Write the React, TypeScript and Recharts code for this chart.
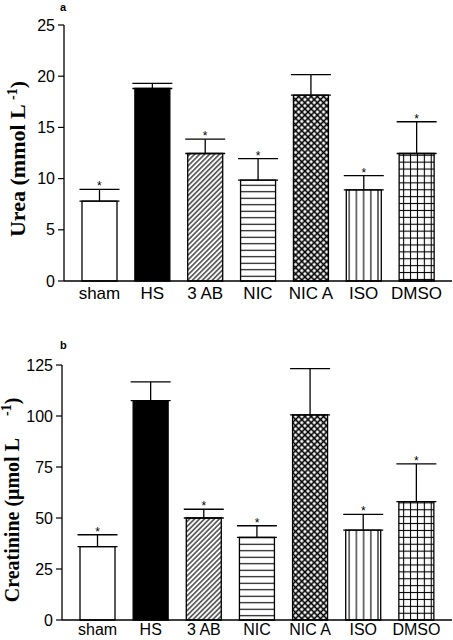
import React from 'react'
import {
  ComposedChart, Bar, Cell, ErrorBar, Scatter, XAxis, YAxis
} from 'recharts'

// groups
const categories = ['sham', 'HS', '3 AB', 'NIC', 'NIC A', 'ISO', 'DMSO']

// panel a: urea (mmol/L), mean and SEM
const ureaMean = [7.8, 18.8, 12.45, 9.85, 18.15, 8.9, 12.45]
const ureaSem = [1.15, 0.5, 1.4, 2.1, 2.0, 1.4, 3.1]

// panel b: creatinine (umol/L), mean and SEM
const creatMean = [36, 107.5, 50, 40.5, 100.6, 44.1, 58]
const creatSem = [5.8, 9.2, 4.3, 5.7, 22.6, 7.7, 18.5]

// * = significant vs HS
const significant = [true, false, true, true, false, true, true]

const ureaTicks = [0, 5, 10, 15, 20, 25]
const creatTicks = [0, 25, 50, 75, 100, 125]

const fillKeys = ['white', 'black', 'diag', 'horiz', 'cross', 'vert', 'grid']

const SANS = '"Liberation Sans", Arial, sans-serif'
const SERIF = '"Liberation Serif", "Times New Roman", serif'

function buildRows(mean: number[], sem: number[]) {
  return categories.map((name, i) => ({
    name,
    mean: mean[i],
    err: [0, sem[i]],
    star: significant[i] ? mean[i] + sem[i] : null,
  }))
}

function Patterns({ id }: { id: string }) {
  return (
    <defs>
      <pattern id={`${id}-diag`} patternUnits="userSpaceOnUse" width={3.5} height={3.5} patternTransform="rotate(45)">
        <rect width={3.5} height={3.5} fill="#fff" />
        <line x1={1.75} y1={0} x2={1.75} y2={3.5} stroke="#000" strokeWidth={1.1} />
      </pattern>
      <pattern id={`${id}-horiz`} patternUnits="userSpaceOnUse" width={10} height={6.5}>
        <rect width={10} height={6.5} fill="#fff" />
        <line x1={0} y1={3.25} x2={10} y2={3.25} stroke="#000" strokeWidth={1.1} />
      </pattern>
      <pattern id={`${id}-cross`} patternUnits="userSpaceOnUse" width={4.4} height={4.4} patternTransform="rotate(45)">
        <rect width={4.4} height={4.4} fill="#fff" />
        <line x1={2.2} y1={0} x2={2.2} y2={4.4} stroke="#000" strokeWidth={1.6} />
        <line x1={0} y1={2.2} x2={4.4} y2={2.2} stroke="#000" strokeWidth={1.6} />
      </pattern>
      <pattern id={`${id}-vert`} patternUnits="userSpaceOnUse" width={7.2} height={10}>
        <rect width={7.2} height={10} fill="#fff" />
        <line x1={3.6} y1={0} x2={3.6} y2={10} stroke="#000" strokeWidth={1.1} />
      </pattern>
      <pattern id={`${id}-grid`} patternUnits="userSpaceOnUse" width={6.9} height={6.9}>
        <rect width={6.9} height={6.9} fill="#fff" />
        <line x1={3.45} y1={0} x2={3.45} y2={6.9} stroke="#000" strokeWidth={1.1} />
        <line x1={0} y1={3.45} x2={6.9} y2={3.45} stroke="#000" strokeWidth={1.1} />
      </pattern>
    </defs>
  )
}

function fillFor(id: string, key: string) {
  if (key === 'white') return '#fff'
  if (key === 'black') return '#000'
  return `url(#${id}-${key})`
}

const Star = (props: any) => {
  const { cx, cy, payload } = props
  if (payload == null || payload.star == null) return <g />
  return (
    <text x={cx} y={cy + 1} textAnchor="middle" fontFamily={SANS} fontSize={12} fill="#000">*</text>
  )
}

type PanelProps = {
  id: string
  top: number
  height: number
  marginTop: number
  axisWidth: number
  xAxisHeight: number
  xFont: number
  xTickSize: number
  rows: any[]
  ticks: number[]
  letter: string
  letterTop: number
  yLabel: (props: any) => React.ReactElement
}

function Panel(p: PanelProps) {
  return (
    <div style={{ position: 'absolute', left: 0, top: p.top, width: 453, height: p.height }}>
      <ComposedChart
        width={453}
        height={p.height}
        data={p.rows}
        barSize={35}
        margin={{ top: p.marginTop, right: 1, bottom: 0, left: 0 }}
      >
        <Patterns id={p.id} />
        <XAxis
          dataKey="name"
          height={p.xAxisHeight}
          padding={{ left: 9, right: 9 }}
          axisLine={{ stroke: '#000', strokeWidth: 1.3 }}
          tickLine={false}
          tickSize={p.xTickSize}
          tickMargin={2}
          interval={0}
          tick={{ fill: '#000', fontSize: p.xFont, fontFamily: SANS }}
        />
        <YAxis
          width={p.axisWidth}
          domain={[p.ticks[0], p.ticks[p.ticks.length - 1]]}
          ticks={p.ticks}
          interval={0}
          axisLine={{ stroke: '#000', strokeWidth: 1.3 }}
          tickLine={{ stroke: '#000', strokeWidth: 1.2 }}
          tickSize={6}
          tickMargin={3}
          tick={{ fill: '#000', fontSize: 16, fontFamily: SANS }}
          label={p.yLabel}
        />
        <Bar dataKey="mean" stroke="#000" strokeWidth={1.3} isAnimationActive={false}>
          {p.rows.map((r, i) => (
            <Cell key={r.name} fill={fillFor(p.id, fillKeys[i])} />
          ))}
          <ErrorBar dataKey="err" direction="y" width={20} stroke="#000" strokeWidth={1.3} />
        </Bar>
        <Scatter dataKey="star" shape={Star} isAnimationActive={false} />
      </ComposedChart>
      <span
        style={{
          position: 'absolute', left: 60, top: p.letterTop, fontFamily: SANS,
          fontWeight: 'bold', fontSize: 11, lineHeight: '8px', color: '#000',
        }}
      >
        {p.letter}
      </span>
    </div>
  )
}

const UreaLabel = () => (
  <text transform="translate(25,159) rotate(-90)" textAnchor="middle" fontFamily={SERIF} fontWeight="bold" fontSize={22} fill="#000">
    Urea (mmol L <tspan fontSize={14} dy={-8}>-1</tspan><tspan dy={8}>)</tspan>
  </text>
)

const CreatLabel = () => (
  <text transform="translate(19,180) rotate(-90)" textAnchor="middle" fontFamily={SERIF} fontWeight="bold" fontSize={20} fill="#000">
    Creatinine (μmol L<tspan fontSize={14} dx={22} dy={-8}>-1</tspan><tspan dy={8}>)</tspan>
  </text>
)

export default function App() {
  return (
    <div style={{ position: 'absolute', left: 0, top: 0, width: 453, height: 640, background: '#fff' }}>
      <Panel
        id="pa"
        top={0}
        height={310}
        marginTop={25}
        axisWidth={64}
        xAxisHeight={29}
        xFont={17}
        xTickSize={4}
        rows={buildRows(ureaMean, ureaSem)}
        ticks={ureaTicks}
        letter="a"
        letterTop={3}
        yLabel={UreaLabel}
      />
      <Panel
        id="pb"
        top={320}
        height={320}
        marginTop={45}
        axisWidth={62}
        xAxisHeight={20}
        xFont={16}
        xTickSize={2}
        rows={buildRows(creatMean, creatSem)}
        ticks={creatTicks}
        letter="b"
        letterTop={21}
        yLabel={CreatLabel}
      />
    </div>
  )
}
